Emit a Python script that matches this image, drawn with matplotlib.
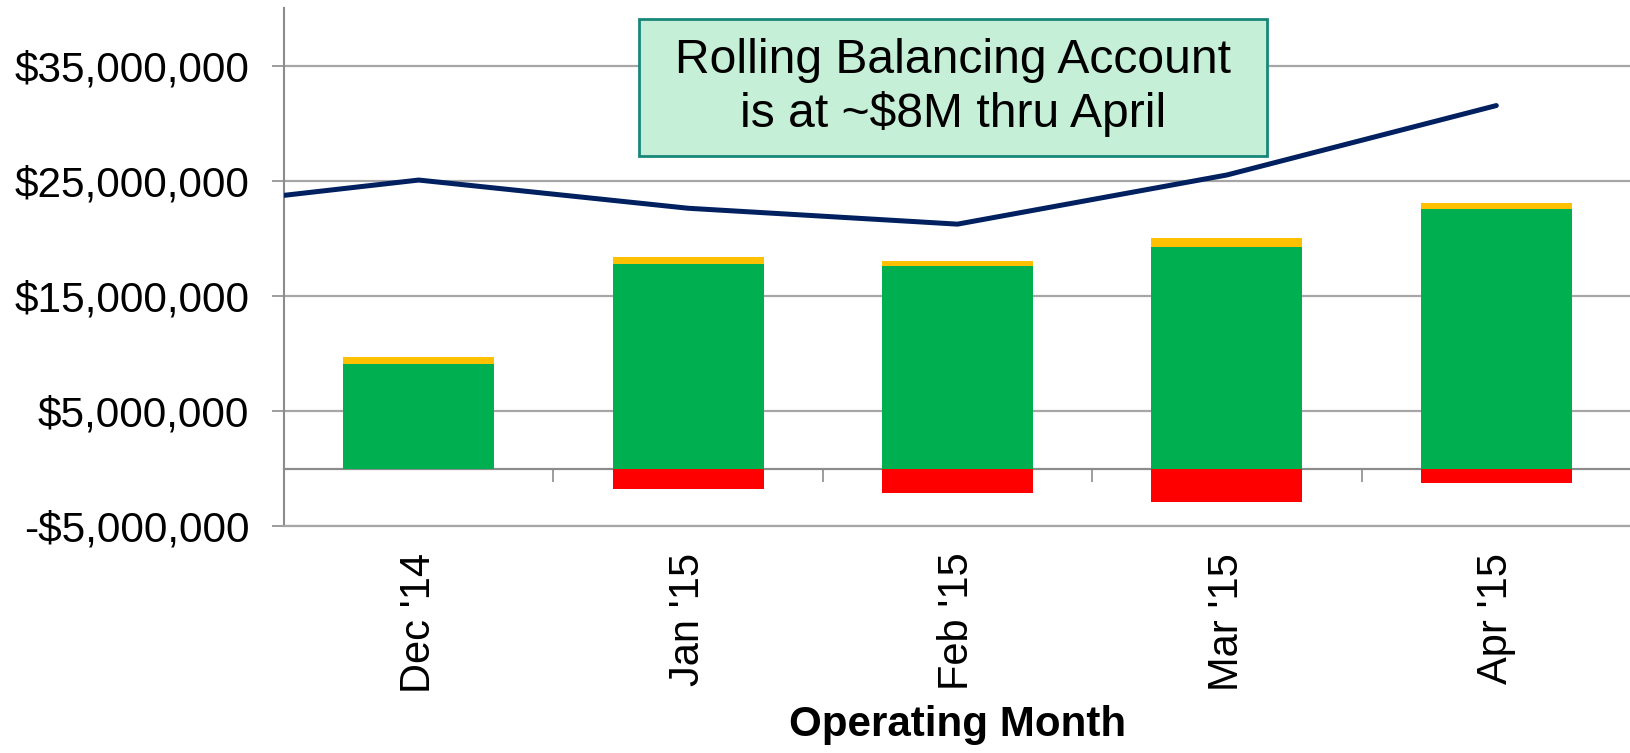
"""Monthly balancing account chart: stacked bars with a rolling balance line."""
import numpy as np
from matplotlib import pyplot as plt
from matplotlib.patches import Rectangle
from matplotlib.ticker import FuncFormatter, FixedLocator

plt.rcParams['font.family'] = ['Liberation Sans', 'DejaVu Sans']

months = ["Dec '14", "Jan '15", "Feb '15", "Mar '15", "Apr '15"]
green_vals = [9.09e6, 17.81e6, 17.62e6, 19.28e6, 22.56e6]
yellow_vals = [0.66e6, 0.55e6, 0.45e6, 0.75e6, 0.53e6]
red_vals = [0.0, -1.77e6, -2.12e6, -2.87e6, -1.28e6]
# rolling balance; first value is the (clipped) month before Dec '14
rolling_vals = [22.42e6, 25.08e6, 22.63e6, 21.25e6, 25.52e6, 31.55e6]
yticks = [-5e6, 5e6, 15e6, 25e6, 35e6]
note = 'Rolling Balancing Account\nis at ~$8M thru April'

GRID = '#a6a6a6'
AXIS = '#8c8c8c'

fig = plt.figure(figsize=(16.31, 7.53), dpi=100)
ax = fig.add_axes([284 / 1631, 1 - 526.3 / 753, 1 - 284 / 1631,
                   (526.3 - 8.3) / 753])

x = np.arange(len(months))
width = 0.56
ax.bar(x, green_vals, width, color='#00b050', zorder=2)
ax.bar(x, yellow_vals, width, bottom=green_vals, color='#ffc000', zorder=2)
ax.bar(x, red_vals, width, color='#ff0000', zorder=2)

xl = np.arange(-1, len(months))
ax.plot(xl, rolling_vals, color='#002060', lw=3.6, zorder=3,
        solid_capstyle='round', solid_joinstyle='round')

ax.set_xlim(-0.5, len(months) - 0.5)
ax.set_ylim(-5e6, 40e6)
ax.set_yticks(yticks)
ax.yaxis.set_major_formatter(FuncFormatter(
    lambda v, _: ('-' if v < 0 else '') + '${:,.0f}'.format(abs(v))))
ax.yaxis.grid(True, color=GRID, lw=1.6, zorder=0)
ax.tick_params(axis='y', length=9, width=1.2, color=AXIS, pad=16,
               labelsize=30.5)

ax.set_xticks(x)
ax.set_xticklabels(months, rotation=90, fontsize=30)
ax.tick_params(axis='x', length=0, pad=19)

for side in ('top', 'right'):
    ax.spines[side].set_visible(False)
ax.spines['left'].set_color(AXIS)
ax.spines['left'].set_linewidth(1.5)
ax.spines['bottom'].set_color(GRID)
ax.spines['bottom'].set_linewidth(1.6)

# category axis crossing at zero, with tick marks between months
zero_pos = (0 - (-5e6)) / (40e6 - (-5e6))
sec = ax.secondary_xaxis(zero_pos)
sec.xaxis.set_major_locator(FixedLocator(x[:-1] + 0.5))
sec.tick_params(axis='x', length=9, width=1.2, color=AXIS,
                direction='out', labelbottom=False)
sec.spines['bottom'].set_color(AXIS)
sec.spines['bottom'].set_linewidth(1.6)

ax.set_xlabel('Operating Month', fontsize=30.3, fontweight='bold')
ax.xaxis.set_label_coords(0.5, -0.345)

# annotation box
bx0, bx1, by0, by1 = 639, 1267, 19, 156
fig.patches.append(Rectangle(
    (bx0 / 1631, 1 - by1 / 753), (bx1 - bx0) / 1631, (by1 - by0) / 753,
    transform=fig.transFigure, facecolor='#c6efd7', edgecolor='#17877a',
    lw=2, zorder=5))
fig.text((bx0 + bx1) / 2 / 1631, 1 - (by0 + by1) / 2 / 753, note,
         ha='center', va='center', fontsize=34.6, linespacing=1.2,
         zorder=6)

fig.savefig('out.png', dpi=100)
